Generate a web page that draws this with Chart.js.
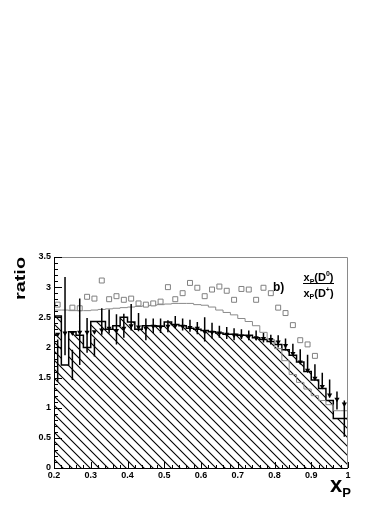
<!DOCTYPE html>
<html><head><meta charset="utf-8">
<script src="https://cdn.jsdelivr.net/npm/chart.js@4/dist/chart.umd.min.js"></script>
<style>html,body{margin:0;padding:0;background:#fff;}canvas{display:block;}</style>
</head><body>
<canvas id="c" width="392" height="508"></canvas>
<script>
// ---- data ----
const binCenters = [0.21,0.23,0.25,0.27,0.29,0.31,0.33,0.35,0.37,0.39,
                    0.41,0.43,0.45,0.47,0.49,0.51,0.53,0.55,0.57,0.59,
                    0.61,0.63,0.65,0.67,0.69,0.71,0.73,0.75,0.77,0.79,
                    0.81,0.83,0.85,0.87,0.89,0.91,0.93,0.95,0.97,0.99];
const histValues = [1.78,2.52,1.71,2.26,2.20,2.00,2.43,2.43,2.30,2.36,
                    2.50,2.42,2.30,2.36,2.36,2.35,2.42,2.38,2.36,2.32,
                    2.30,2.28,2.26,2.24,2.22,2.22,2.20,2.20,2.16,2.13,
                    2.10,2.05,1.96,1.87,1.76,1.60,1.46,1.32,1.12,0.82];
const histErrors = [0.35,0.65,0.25,0.55,0.29,0.15,0.22,0.20,0.25,0.20,
                    0.22,0.15,0.18,0.12,0.12,0.10,0.10,0.10,0.10,0.10,
                    0.20,0.13,0.10,0.10,0.10,0.08,0.08,0.08,0.08,0.08,
                    0.10,0.10,0.10,0.10,0.12,0.12,0.12,0.15,0.15,0.30];
const triangleValues = [2.22,2.24,2.24,2.25,2.25,2.26,2.29,2.32,2.28,2.32,
                        2.36,2.34,2.32,2.35,2.34,2.35,2.36,2.35,2.33,2.32,
                        2.26,2.25,2.24,2.22,2.20,2.19,2.18,2.16,2.15,2.13,
                        2.09,2.03,1.90,1.76,1.62,1.49,1.35,1.21,1.14,1.06];
const squareValues = [2.71,null,2.66,2.65,2.84,2.81,3.11,2.80,2.85,2.79,
                      2.81,2.73,2.71,2.73,2.76,3.00,2.80,2.90,3.07,2.99,
                      2.85,2.96,3.01,2.94,2.79,2.97,2.96,2.79,2.99,2.90,
                      2.66,2.57,2.37,2.12,2.05,1.86,null,null,null,null];
const grayLineValues = [2.62,2.62,2.62,2.61,2.61,2.61,2.62,2.63,2.64,2.65,
                        2.66,2.67,2.68,2.69,2.70,2.71,2.72,2.73,2.73,2.73,
                        2.71,2.70,2.67,2.62,2.58,2.54,2.48,2.43,2.36,2.25,
                        2.13,1.98,1.78,1.55,1.42,1.31,1.20,1.12,1.05,0.95];
const xTickLabels = ['0.2','0.3','0.4','0.5','0.6','0.7','0.8','0.9','1'];
const yTickLabels = ['0','0.5','1','1.5','2','2.5','3','3.5'];
const BIN_HALF = 0.01;

const canvas = document.getElementById('c');
const ctx = canvas.getContext('2d');

function stepPoints(vals){
  const pts = binCenters.map((c,i)=>({x:c-BIN_HALF,y:vals[i]}));
  pts.push({x:binCenters[binCenters.length-1]+BIN_HALF,y:vals[vals.length-1]});
  return pts;
}
function makeHatch(){
  const s = 9;
  const t = document.createElement('canvas'); t.width=s; t.height=s;
  const g = t.getContext('2d');
  g.strokeStyle='#000'; g.lineWidth=1.1;
  g.beginPath();
  g.moveTo(-1,-1); g.lineTo(s+1,s+1);
  g.moveTo(-2,s-2); g.lineTo(2,s+2);
  g.moveTo(s-2,-2); g.lineTo(s+2,2);
  g.stroke();
  return ctx.createPattern(t,'repeat');
}
const errPts = binCenters.flatMap((c,i)=>[
  {x:c,y:histValues[i]-histErrors[i]},{x:c,y:histValues[i]+histErrors[i]},{x:c,y:null}]);
const FONT = "'Liberation Sans', Arial, Helvetica, sans-serif";

function drawRuns(c, x, base, runs){
  let cx = x;
  for (const r of runs){
    c.font = 'bold ' + r.size + 'px ' + FONT;
    c.fillText(r.t, cx, base + (r.dy||0));
    cx += c.measureText(r.t).width;
  }
  return cx - x;
}
function runsWidth(c, runs){
  let w=0; for (const r of runs){ c.font='bold '+r.size+'px '+FONT; w+=c.measureText(r.t).width; } return w;
}

const decor = {
  id:'decor',
  afterDatasetsDraw(chart){
    const c = chart.ctx, a = chart.chartArea, xs = chart.scales.x, ys = chart.scales.y;
    c.save();
    c.lineWidth = 1;
    // gray frame (top, right)
    c.strokeStyle = '#8a8a8a';
    c.beginPath();
    c.moveTo(a.left, a.top+0.5); c.lineTo(a.right-0.5, a.top+0.5); c.lineTo(a.right-0.5, a.bottom);
    c.stroke();
    // axes
    c.strokeStyle = '#000';
    c.beginPath();
    c.moveTo(a.left+0.5, a.top); c.lineTo(a.left+0.5, a.bottom+0.5); c.lineTo(a.right, a.bottom+0.5);
    c.stroke();
    // ticks
    c.beginPath();
    for (let k=0;k<=40;k++){
      const px = Math.round(xs.getPixelForValue(0.2 + k*0.02)) + 0.5;
      const len = (k%5===0) ? 6 : 3;
      c.moveTo(px, a.bottom); c.lineTo(px, a.bottom-len);
    }
    for (let k=0;k<=35;k++){
      const py = Math.round(ys.getPixelForValue(k*0.1)) + 0.5;
      const len = (k%5===0) ? 8 : 4;
      c.moveTo(a.left, py); c.lineTo(a.left+len, py);
    }
    c.stroke();
    c.fillStyle = '#000';
    c.textBaseline = 'alphabetic';
    c.textAlign = 'left';
    // y title "ratio"
    c.save();
    c.translate(24.5, 257);
    c.rotate(-Math.PI/2);
    c.font = 'bold 15px ' + FONT;
    const rw = c.measureText('ratio').width;
    c.scale(43/rw, 1);
    c.textAlign = 'right';
    c.fillText('ratio', 0, 0);
    c.restore();
    // x title "x_P"
    drawRuns(c, 330, 492, [{t:'x',size:22},{t:'P',size:13,dy:5}]);
    // "b)"
    c.font = 'bold 12px ' + FONT;
    c.fillText('b)', 273, 291);
    // fraction
    const num = [{t:'x',size:11},{t:'P',size:7,dy:2.5},{t:'(D',size:11},{t:'0',size:7,dy:-5},{t:')',size:11}];
    const den = [{t:'x',size:11},{t:'P',size:7,dy:2.5},{t:'(D',size:11},{t:'+',size:7,dy:-5},{t:')',size:11}];
    const cxm = 318.5;
    const wn = runsWidth(c,num), wd = runsWidth(c,den);
    drawRuns(c, cxm - wn/2, 281, num);
    drawRuns(c, cxm - wd/2, 296.5, den);
    c.beginPath(); c.moveTo(303, 283.5); c.lineTo(334, 283.5); c.stroke();
    c.restore();
  }
};

new Chart(ctx, {
  type: 'line',
  data: { datasets: [
    { label:'hist', data: stepPoints(histValues), stepped:'after', fill:'origin',
      backgroundColor: makeHatch(), borderColor:'#000', borderWidth:1.5, pointRadius:0, order:5 },
    { label:'gray', data: stepPoints(grayLineValues), stepped:'after', fill:false,
      borderColor:'#8a8a8a', borderWidth:1, pointRadius:0, order:4 },
    { label:'squares', type:'scatter',
      data: binCenters.map((c,i)=>({x:c,y:squareValues[i]})).filter(p=>p.y!==null),
      pointStyle:'rect', pointRadius:3.5, borderColor:'#808080', backgroundColor:'#fff',
      borderWidth:1, showLine:false, order:3 },
    { label:'errors', data: errPts, borderColor:'#000', borderWidth:1.5, pointRadius:0,
      spanGaps:false, fill:false, order:2 },
    { label:'triangles', type:'scatter',
      data: binCenters.map((c,i)=>({x:c,y:triangleValues[i]})),
      pointStyle:'triangle', rotation:180, pointRadius:3, backgroundColor:'#000',
      borderColor:'#000', borderWidth:0, showLine:false, order:1 }
  ]},
  options: {
    responsive:false, animation:false, devicePixelRatio:1,
    layout:{ padding:{ left:0, right:44, top:257, bottom:0 } },
    plugins:{ legend:{display:false}, tooltip:{enabled:false} },
    scales:{
      x:{ type:'linear', min:0.2, max:1.0,
          grid:{display:false, drawTicks:false}, border:{display:false},
          afterFit(s){ s.height = 40; },
          ticks:{ stepSize:0.1, autoSkip:false, maxRotation:0, padding:2, color:'#000',
                  font:{family:FONT, weight:'bold', size:9},
                  callback:(v)=>xTickLabels[Math.round((v-0.2)/0.1)] } },
      y:{ type:'linear', min:0, max:3.5,
          grid:{display:false, drawTicks:false}, border:{display:false},
          afterFit(s){ s.width = 54; },
          ticks:{ stepSize:0.5, autoSkip:false, padding:3, color:'#000',
                  font:{family:FONT, weight:'bold', size:9},
                  callback:(v)=>yTickLabels[Math.round(v/0.5)] } }
    }
  },
  plugins:[decor]
});
</script>
</body></html>
